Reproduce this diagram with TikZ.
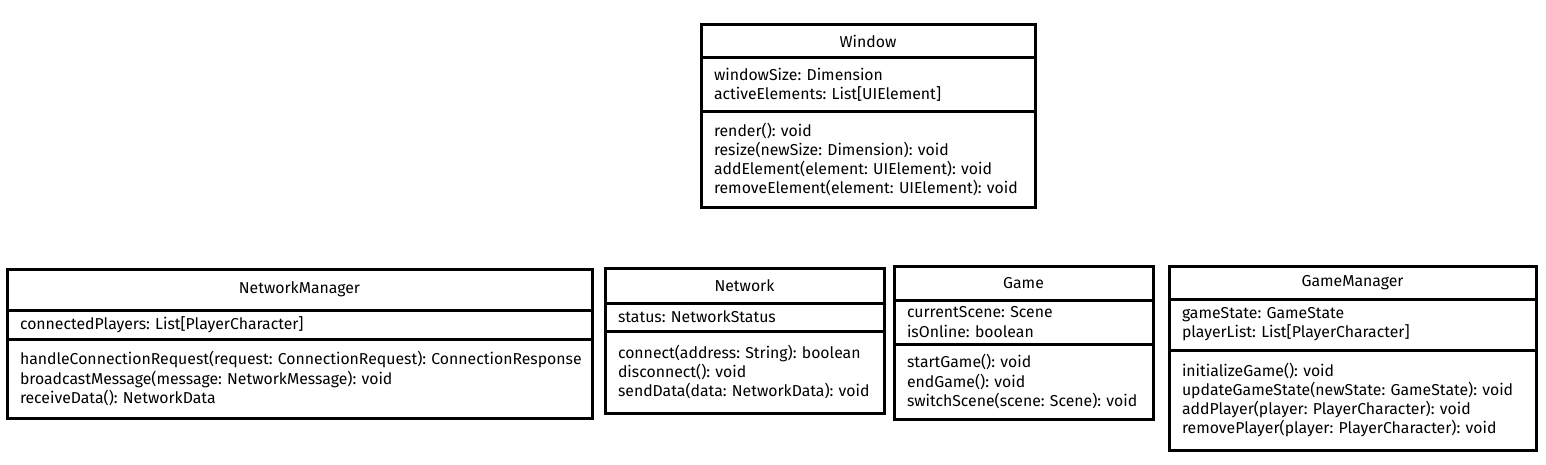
\documentclass[tikz,border=0pt]{standalone}
\usepackage{fontspec}
\setmainfont{Fira Sans}
\usetikzlibrary{positioning}
\frenchspacing

\begin{document}
\begin{tikzpicture}[x=0.5pt, y=-0.5pt,
    box/.style={draw, line width=1.5pt, inner xsep=6.5pt, inner ysep=0pt, outer sep=0pt,
      font=\fontsize{7.9}{9.6}\selectfont},
    head/.style={box, anchor=north, align=center},
    body/.style={box, anchor=north, align=left}]
  \useasboundingbox (0,0) rectangle (1546,465);
  % Window
  \node[head, minimum width=167pt, minimum height=16.5pt] (win) at (868,25) {Window};
  \node[body, below=0pt of win, text width=154pt, minimum height=27pt] (winattr)
    {windowSize: Dimension\\activeElements: List[UIElement]};
  \node[body, below=0pt of winattr, text width=154pt, minimum height=47.5pt] (winops)
    {render(): void\\resize(newSize: Dimension): void\\addElement(element: UIElement): void\\removeElement(element: UIElement): void};
  % NetworkManager
  \node[head, minimum width=292.5pt, minimum height=20.5pt] (netman) at (299.5,269) {NetworkManager};
  \node[body, below=0pt of netman, text width=279.5pt, minimum height=14.5pt] (netmanattr)
    {connectedPlayers: List[PlayerCharacter]};
  \node[body, below=0pt of netmanattr, text width=279.5pt, minimum height=39.5pt] (netmanops)
    {\mbox{handleConnectionRequest(request: ConnectionRequest): ConnectionResponse}\\broadcastMessage(message: NetworkMessage): void\\receiveData(): NetworkData};
  % Network
  \node[head, minimum width=139.5pt, minimum height=17.5pt] (net) at (744.5,268) {Network};
  \node[body, below=0pt of net, text width=126.5pt, minimum height=14pt] (netattr)
    {status: NetworkStatus};
  \node[body, below=0pt of netattr, text width=126.5pt, minimum height=41pt] (netops)
    {connect(address: String): boolean\\disconnect(): void\\sendData(data: NetworkData): void};
  % Game
  \node[head, minimum width=129.5pt, minimum height=17pt] (game) at (1023.5,266) {Game};
  \node[body, below=0pt of game, text width=116.5pt, minimum height=22pt] (gameattr)
    {currentScene: Scene\\isOnline: boolean};
  \node[body, below=0pt of gameattr, text width=116.5pt, minimum height=37.5pt] (gameops)
    {startGame(): void\\endGame(): void\\switchScene(scene: Scene): void};
  % GameManager
  \node[head, minimum width=183.5pt, minimum height=16.5pt] (gameman) at (1352.5,266) {GameManager};
  \node[body, below=0pt of gameman, text width=170.5pt, minimum height=25.5pt] (gamemanattr)
    {gameState: GameState\\playerList: List[PlayerCharacter]};
  \node[body, below=0pt of gamemanattr, text width=170.5pt, minimum height=50pt] (gamemanops)
    {initializeGame(): void\\updateGameState(newState: GameState): void\\addPlayer(player: PlayerCharacter): void\\removePlayer(player: PlayerCharacter): void};
\end{tikzpicture}
\end{document}
